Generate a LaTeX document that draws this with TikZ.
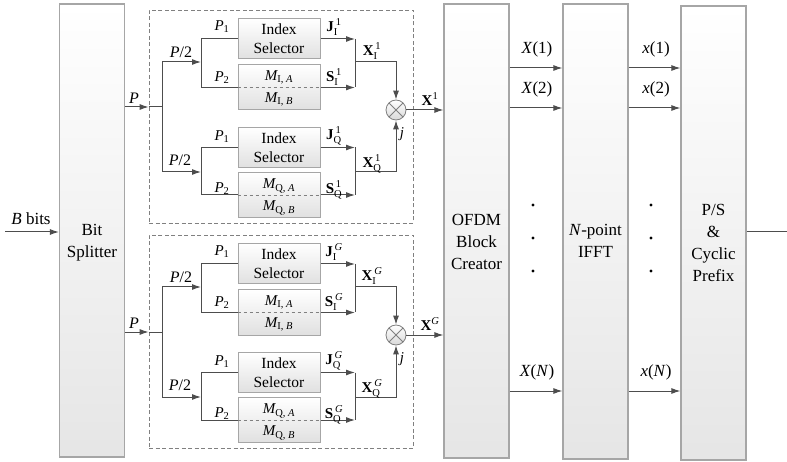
\documentclass[tikz,border=0pt]{standalone}
\usepackage{fontspec}
\setmainfont{Liberation Serif}
\usepackage{amsmath}
\usetikzlibrary{arrows.meta}
\definecolor{wirec}{HTML}{4D4D4D}
\definecolor{boxc}{HTML}{A6A6A6}
\begin{document}
\begin{tikzpicture}[x=1pt,y=-1pt,line width=1pt,
 wire/.style={draw=wirec},
 arr/.style={draw=wirec,-{Latex[length=9pt,width=6pt]}},
 bigbox/.style={draw=boxc,line width=1.2pt,top color=white,bottom color=black!10,minimum width=65pt,inner sep=0pt},
 bigtxt/.style={align=center,inner sep=0pt,font=\fontsize{17}{22}\selectfont},
 smallbox/.style={draw=boxc,line width=1pt,top color=white,bottom color=black!12,minimum width=82pt,inner sep=0pt,align=center,font=\fontsize{15.5}{19}\selectfont},
 dashbox/.style={draw=gray,dashed,line width=0.8pt,dash pattern=on 4pt off 2.5pt,inner sep=0pt},
 lab/.style={font=\fontsize{15}{17}\selectfont,inner sep=0pt},
 labb/.style={font=\fontsize{16}{18}\selectfont,inner sep=0pt},
 mult/.style={circle,draw=gray,line width=0.8pt,minimum size=20pt,inner sep=0pt,top color=white,bottom color=black!15,
   path picture={\draw[gray,line width=0.8pt] (path picture bounding box.south west) -- (path picture bounding box.north east)
     (path picture bounding box.north west) -- (path picture bounding box.south east);}},
 dot/.style={circle,fill=black,inner sep=0pt,minimum size=3.2pt}]
\useasboundingbox (0,0) rectangle (787,462);

% big blocks
\node[bigbox,minimum height=453pt] (bs) at (92,230.5) {};
\node[bigtxt] (bst) at (92,243) {Bit\\Splitter};
\node[bigbox,minimum height=454pt] (ofdm) at (476.5,231) {};
\node[bigtxt] (ofdmt) at (476.5,242) {OFDM\\Block\\Creator};
\node[bigbox,minimum height=455pt] (ifft) at (595.5,231.5) {};
\node[bigtxt] (ifftt) at (595.5,241) {\textit{N}-point\\IFFT};
\node[bigbox,minimum height=454pt] (ps) at (713.5,233) {};
\node[bigtxt] (pst) at (713.5,243) {P/S\\\&\\Cyclic\\Prefix};

% input / output
\coordinate (bin) at (5,232);
\draw[arr] (bin) -- (bs.west |- bin);
\node[labb,font=\fontsize{17}{19}\selectfont] (binl) at (31,219) {\textit{B} bits};
\coordinate (out) at (787,232);
\draw[wire] (ps.east |- out) -- (out);

% OFDM -> IFFT -> P/S
\foreach \yy/\k/\nm in {68/1/a,108/2/b,391/\textit{N}/n}{
  \coordinate (r\nm) at (0,\yy);
  \draw[arr] (ofdm.east |- r\nm) -- (ifft.west |- r\nm);
  \draw[arr] (ifft.east |- r\nm) -- (ps.west |- r\nm);
  \node[labb,font=\fontsize{17}{19}\selectfont] (XL\nm) at (537,\yy-19) {\textit{X}(\k)};
  \node[labb,font=\fontsize{17}{19}\selectfont] (xL\nm) at (656,\yy-19) {\textit{x}(\k)};
}
\foreach \yy/\nm in {205/1,238/2,271/3}{
  \node[dot] (da\nm) at (533,\yy) {};
  \node[dot] (db\nm) at (651,\yy) {};
}

% two groups
\foreach \g/\o/\s in {1/0/\text{1},G/225/\textit{G}}{
\begin{scope}[yshift=-\o pt]
  \node[dashbox,minimum width=264pt,minimum height=213pt] (dbx\g) at (281,116.5) {};
  \coordinate (br\g) at (162,107);
  \draw[arr] (bs.east |- br\g) -- (dbx\g.west |- br\g);
  \draw[wire] (dbx\g.west |- br\g) -- (br\g);
  \node[labb] (Pl\g) at (134,98) {\textit{P}};
  \coordinate (bi\g) at (162,62);
  \coordinate (bq\g) at (162,172);
  \draw[wire] (bi\g) -- (bq\g);
  \coordinate (vi\g) at (201,62);
  \coordinate (vq\g) at (201,172);
  \draw[arr] (bi\g) -- (vi\g);
  \draw[arr] (bq\g) -- (vq\g);
  \node[labb] (P2i\g) at (181,52) {\textit{P}/2};
  \node[labb] (P2q\g) at (180,160) {\textit{P}/2};
  % I branch
  \node[smallbox,minimum height=40pt] (isI\g) at (279,39) {Index\\Selector};
  \node[smallbox,minimum height=45pt] (mI\g) at (279,87.5) {};
  \draw[gray,dashed,line width=0.8pt] (mI\g.west) -- (mI\g.east);
  \node[lab] (mIA\g) at (279,77) {$\textit{M}_{\text{I, }\textit{A}}$};
  \node[lab] (mIB\g) at (279,99) {$\textit{M}_{\text{I, }\textit{B}}$};
  \draw[wire] (isI\g.west) -| (vi\g |- mI\g.west) -- (mI\g.west);
  \node[lab] (p1i\g) at (222,27) {$\textit{P}_{\text{1}}$};
  \node[lab] (p2i\g) at (222,78) {$\textit{P}_{\text{2}}$};
  \coordinate (mi\g) at (355,62);
  \draw[arr] (isI\g.east) -- (mi\g |- isI\g.east);
  \draw[arr] (mI\g.east) -- (mi\g |- mI\g.east);
  \draw[wire] (mi\g |- isI\g.east) -- (mi\g |- mI\g.east);
  \node[lab] (jI\g) at (334,27) {$\textbf{J}_{\text{I}}^{\,\s}$};
  \node[lab] (sI\g) at (334,77) {$\textbf{S}_{\text{I}}^{\,\s}$};
  % Q branch
  \node[smallbox,minimum height=40pt] (isQ\g) at (279,147.5) {Index\\Selector};
  \node[smallbox,minimum height=45pt] (mQ\g) at (279,195) {};
  \draw[gray,dashed,line width=0.8pt] (mQ\g.west) -- (mQ\g.east);
  \node[lab] (mQA\g) at (279,186) {$\textit{M}_{\text{Q, }\textit{A}}$};
  \node[lab] (mQB\g) at (279,208) {$\textit{M}_{\text{Q, }\textit{B}}$};
  \draw[wire] (isQ\g.west) -| (vq\g |- mQ\g.west) -- (mQ\g.west);
  \node[lab] (p1q\g) at (222,137) {$\textit{P}_{\text{1}}$};
  \node[lab] (p2q\g) at (222,189) {$\textit{P}_{\text{2}}$};
  \coordinate (mq\g) at (355,172);
  \draw[arr] (isQ\g.east) -- (mq\g |- isQ\g.east);
  \draw[arr] (mQ\g.east) -- (mq\g |- mQ\g.east);
  \draw[wire] (mq\g |- isQ\g.east) -- (mq\g |- mQ\g.east);
  \node[lab] (jQ\g) at (334,136) {$\textbf{J}_{\text{Q}}^{\,\s}$};
  \node[lab] (sQ\g) at (334,190) {$\textbf{S}_{\text{Q}}^{\,\s}$};
  % multiplier
  \node[mult] (c\g) at (396,110) {};
  \draw[arr] (mi\g) -| (c\g.north);
  \draw[arr] (mq\g) -| (c\g.south);
  \node[lab] (xi\g) at (372,51) {$\textbf{X}_{\text{I}}^{\,\s}$};
  \node[lab] (xq\g) at (372,164) {$\textbf{X}_{\text{Q}}^{\,\s}$};
  \node[lab] (jl\g) at (402,134) {\textit{j}};
  \draw[arr] (c\g.east) -- (ofdm.west |- c\g.east);
  \node[lab] (xo\g) at (430,99) {$\textbf{X}^{\s}$};
\end{scope}
}
\end{tikzpicture}
\end{document}
